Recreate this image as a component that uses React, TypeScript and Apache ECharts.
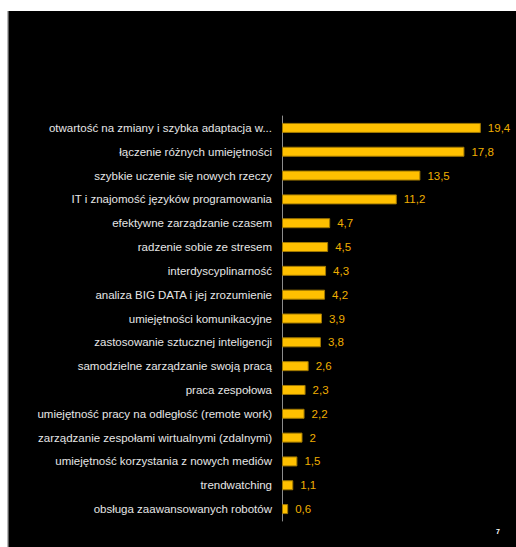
import React, { useEffect, useRef } from "react";
import * as echarts from "echarts";

const categories = [
  "otwartość na zmiany i szybka adaptacja w...",
  "łączenie różnych umiejętności",
  "szybkie uczenie się nowych rzeczy",
  "IT i znajomość języków programowania",
  "efektywne zarządzanie czasem",
  "radzenie sobie ze stresem",
  "interdyscyplinarność",
  "analiza BIG DATA i jej zrozumienie",
  "umiejętności komunikacyjne",
  "zastosowanie sztucznej inteligencji",
  "samodzielne zarządzanie swoją pracą",
  "praca zespołowa",
  "umiejętność pracy na odległość (remote work)",
  "zarządzanie zespołami wirtualnymi (zdalnymi)",
  "umiejętność korzystania z nowych mediów",
  "trendwatching",
  "obsługa zaawansowanych robotów",
];

const values = [19.4, 17.8, 13.5, 11.2, 4.7, 4.5, 4.3, 4.2, 3.9, 3.8, 2.6, 2.3, 2.2, 2, 1.5, 1.1, 0.6];

const pageNumber = "7";

export default function App() {
  const ref = useRef<HTMLDivElement>(null);

  useEffect(() => {
    if (!ref.current) return;
    const chart = echarts.init(ref.current, null, { renderer: "svg" });
    chart.setOption({
      animation: false,
      backgroundColor: "#ffffff",
      graphic: [
        {
          type: "rect",
          z: -10,
          shape: { x: 8, y: 11, width: 508, height: 536 },
          style: { fill: "#000000" },
        },
        {
          type: "rect",
          z: -9,
          shape: { x: 7, y: 11, width: 1.5, height: 536 },
          style: { fill: "#b8b8b8" },
        },
        {
          type: "text",
          x: 496,
          y: 528,
          style: {
            text: pageNumber,
            fill: "#ffffff",
            fontSize: 7,
            fontWeight: "bold",
            fontFamily: "Liberation Sans, Arial, sans-serif",
          },
        },
      ],
      grid: { left: 282, right: 29, top: 116, bottom: 26, containLabel: false },
      xAxis: {
        type: "value",
        min: 0,
        max: 20,
        show: false,
      },
      yAxis: {
        type: "category",
        data: categories,
        inverse: true,
        axisLine: { show: true, lineStyle: { color: "#8c8c8c", width: 1 } },
        axisTick: { show: false },
        axisLabel: {
          color: "#e6e6e6",
          fontSize: 11.5,
          margin: 10,
          fontFamily: "Liberation Sans, Arial, sans-serif",
        },
        splitLine: { show: false },
      },
      series: [
        {
          type: "bar",
          data: values,
          barWidth: 10,
          itemStyle: { color: "#FFC000", borderColor: "#A07800", borderWidth: 1 },
          label: {
            show: true,
            position: "right",
            distance: 7,
            color: "#EFAF00",
            fontSize: 11.5,
            fontFamily: "Liberation Sans, Arial, sans-serif",
            formatter: (p: any) => String(p.value).replace(".", ","),
          },
        },
      ],
    });
    return () => chart.dispose();
  }, []);

  return (
    <div
      ref={ref}
      style={{ position: "fixed", left: 0, top: 0, width: 516, height: 547 }}
    />
  );
}
